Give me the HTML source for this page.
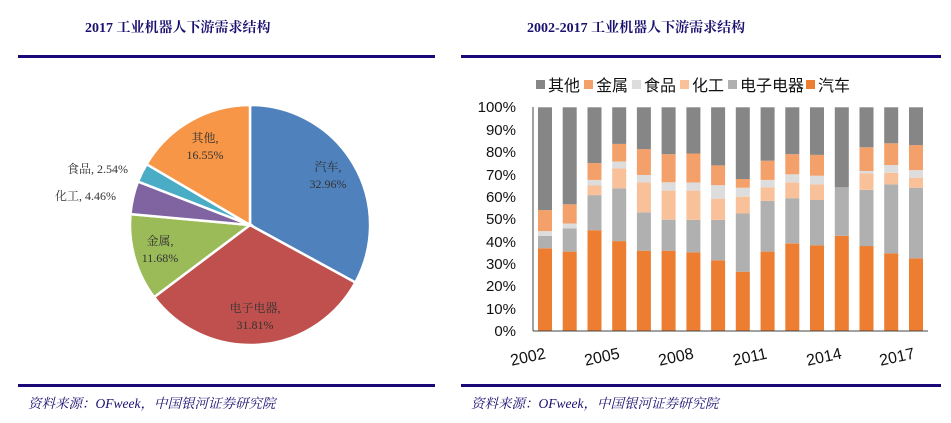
<!DOCTYPE html>
<html><head><meta charset="utf-8"><style>
body{margin:0;background:#fff;width:951px;height:423px;overflow:hidden}
svg{display:block}
.t{font-family:"Liberation Serif","Noto Serif CJK SC",serif;font-weight:bold;font-size:14px;fill:#1a1070}
.p{font-family:"Liberation Serif","Noto Serif CJK SC",serif;font-size:12px;fill:#333}
.s{font-family:"Liberation Sans","Noto Sans CJK SC",sans-serif;font-size:15px;fill:#111}
.f{font-family:"Liberation Serif","Noto Serif CJK SC",serif;font-style:italic;font-size:13.5px;fill:#1a1070}
</style></head><body>
<svg width="951" height="423" viewBox="0 0 951 423">
<text class="t" x="85" y="32">2017 工业机器人下游需求结构</text>
<text class="t" x="527" y="32">2002-2017 工业机器人下游需求结构</text>
<rect x="18" y="55" width="417" height="3" fill="#1a0a78"/>
<rect x="461" y="55" width="480" height="3" fill="#1a0a78"/>
<rect x="18" y="384" width="417" height="3" fill="#1a0a78"/>
<rect x="461" y="384" width="480" height="3" fill="#1a0a78"/>
<text class="f" x="28" y="408">资料来源：OFweek，中国银河证券研究院</text>
<text class="f" x="471" y="408">资料来源：OFweek，中国银河证券研究院</text>
<g stroke="#fff" stroke-width="2.5">
<path d="M250,225 L250,105 A120,120 0 0 1 355.4,282.5 Z" fill="#4F81BD"/>
<path d="M250,225 L355.4,282.5 A120,120 0 0 1 154.1,297.1 Z" fill="#C0504D"/>
<path d="M250,225 L154.1,297.1 A120,120 0 0 1 130.5,214.1 Z" fill="#9BBB59"/>
<path d="M250,225 L130.5,214.1 A120,120 0 0 1 138.0,181.6 Z" fill="#8064A2"/>
<path d="M250,225 L138.0,181.6 A120,120 0 0 1 146.6,164.2 Z" fill="#4BACC6"/>
<path d="M250,225 L146.6,164.2 A120,120 0 0 1 250,105 Z" fill="#F79646"/>
</g>
<g class="p" text-anchor="middle">
<text x="328" y="171">汽车,</text><text x="328" y="188">32.96%</text>
<text x="255" y="312">电子电器,</text><text x="255" y="329">31.81%</text>
<text x="160" y="245">金属,</text><text x="160" y="262">11.68%</text>
<text x="205" y="142">其他,</text><text x="205" y="159">16.55%</text>
</g>
<text class="p" x="67" y="173">食品, 2.54%</text>
<text class="p" x="55" y="200">化工, 4.46%</text>
<g class="s" style="font-size:16px">
<rect x="536" y="80" width="9" height="9" fill="#868686"/><text x="548" y="91">其他</text>
<rect x="584" y="80" width="9" height="9" fill="#F4A06A"/><text x="596" y="91">金属</text>
<rect x="632" y="80" width="9" height="9" fill="#DDDDDD"/><text x="644" y="91">食品</text>
<rect x="680" y="80" width="9" height="9" fill="#F8C19A"/><text x="692" y="91">化工</text>
<rect x="728" y="80" width="9" height="9" fill="#B0B0B0"/><text x="740" y="91">电子电器</text>
<rect x="806" y="80" width="9" height="9" fill="#ED7D31"/><text x="818" y="91">汽车</text>
</g>
<g class="s" text-anchor="end">
<text x="516" y="112">100%</text><text x="516" y="135">90%</text><text x="516" y="157">80%</text>
<text x="516" y="180">70%</text><text x="516" y="202">60%</text><text x="516" y="224">50%</text>
<text x="516" y="247">40%</text><text x="516" y="269">30%</text><text x="516" y="291">20%</text>
<text x="516" y="314">10%</text><text x="516" y="336">0%</text>
</g>
<g id="bars"></g>
<line x1="533" y1="107" x2="533" y2="331" stroke="#444"/>
<line x1="533" y1="331" x2="928" y2="331" stroke="#444"/>
<g class="s" text-anchor="middle" style="font-size:16px">
<text transform="translate(529,362) rotate(-12)">2002</text>
<text transform="translate(603,362) rotate(-12)">2005</text>
<text transform="translate(677,362) rotate(-12)">2008</text>
<text transform="translate(751,362) rotate(-12)">2011</text>
<text transform="translate(825,362) rotate(-12)">2014</text>
<text transform="translate(898,362) rotate(-12)">2017</text>
</g>
</svg>
<script>
var d=[[36.9,42.5,42.5,44.6,54],[35.4,45.8,45.8,48,56.6],[45,60.7,65,67.5,75],[40.1,63.7,72.7,75.7,83.6],[35.8,53,66.4,69.7,81.3],[35.8,49.7,62.7,66.4,79],[35.1,49.6,62.7,66.3,79.3],[31.5,49.6,59.1,65.2,74],[26.4,52.5,60,64,67.9],[35.4,58.1,64.2,67.5,76.1],[39.1,59.3,66.4,70,79],[38.2,58.5,65.5,69.4,78.7],[42.5,64.2,64.2,64.2,64.2],[37.9,63,70.4,71.5,82.1],[34.6,65.5,70.7,74.2,83.9],[32.4,64,68.5,71.9,83.1]];
var c=["#ED7D31","#B0B0B0","#F8C19A","#DDDDDD","#F4A06A","#868686"];
var g=document.getElementById("bars"),s="";
function Y(v){return 330.7-v*2.234}
d.forEach(function(b,i){var x=538+i*24.73,prev=0,vals=b.concat([100]);
vals.forEach(function(v,j){if(v>prev){s+='<rect x="'+x.toFixed(1)+'" y="'+Y(v).toFixed(1)+'" width="14" height="'+(Y(prev)-Y(v)).toFixed(1)+'" fill="'+c[j]+'"/>';}prev=v;});});
g.innerHTML=s;
</script>
</body></html>
